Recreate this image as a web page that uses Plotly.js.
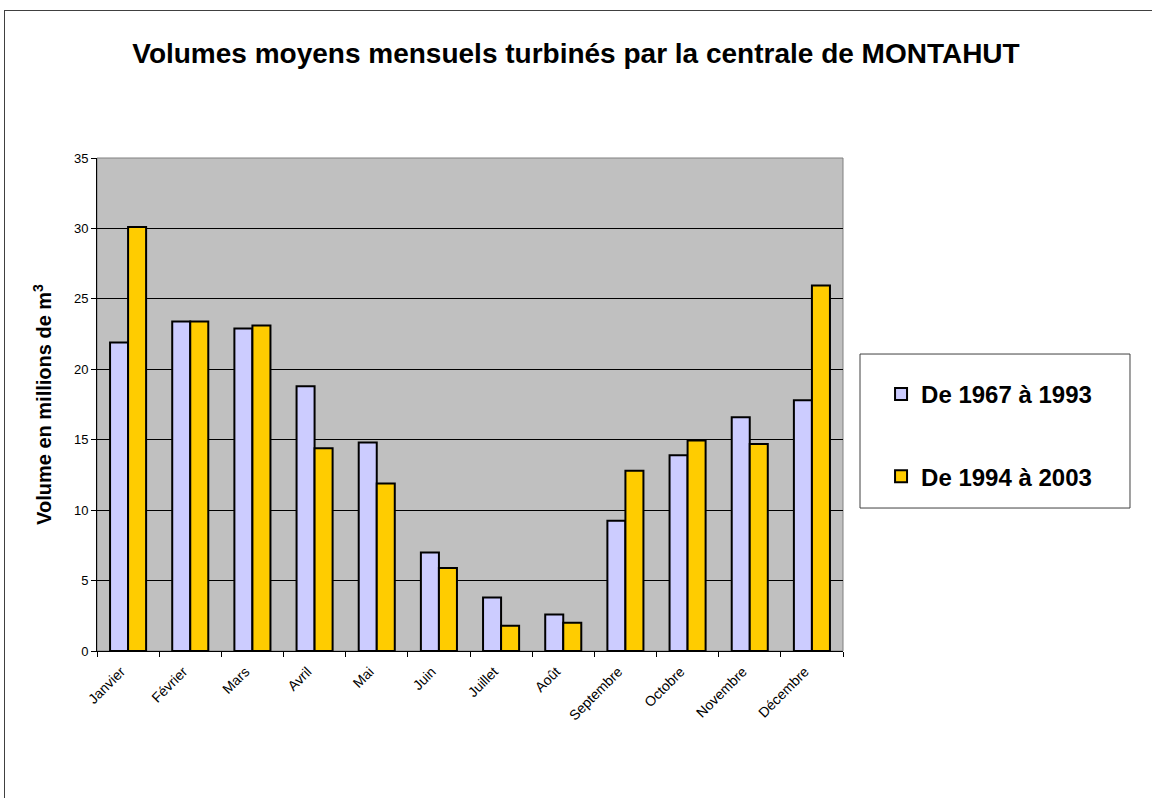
<!DOCTYPE html>
<html>
<head>
<meta charset="utf-8">
<script src="https://cdn.plot.ly/plotly-3.0.1.min.js"></script>
<style>
  html, body { margin: 0; padding: 0; background: #fff; overflow: hidden; }
  #chart { position: absolute; left: 0; top: 0; width: 1152px; height: 798px; }
  #cadre { position: absolute; left: 4px; top: 10px; width: 1200px; height: 900px;
           border: 1px solid #404040; pointer-events: none; }
</style>
</head>
<body>
<div id="chart"></div>
<div id="cadre"></div>
<script>
// Mois et volumes moyens turbinés (millions de m3)
const mois = ['Janvier', 'Février', 'Mars', 'Avril', 'Mai', 'Juin',
              'Juillet', 'Août', 'Septembre', 'Octobre', 'Novembre', 'Décembre'];
const periode1967 = [21.9, 23.4, 22.9, 18.8, 14.8, 7.0, 3.8, 2.6, 9.25, 13.9, 16.6, 17.8];
const periode1994 = [30.1, 23.4, 23.1, 14.4, 11.9, 5.9, 1.8, 2.0, 12.8, 14.95, 14.7, 25.95];
const yTicks = [0, 5, 10, 15, 20, 25, 30, 35];

const police = 'Liberation Sans, Arial, sans-serif';

const data = [
  {
    x: mois,
    y: periode1967,
    type: 'bar',
    name: 'De 1967 à 1993',
    legendgroup: 'a',
    marker: { color: '#CCCCFF', line: { color: '#000', width: 2 } }
  },
  {
    x: mois,
    y: periode1994,
    type: 'bar',
    name: 'De 1994 à 2003',
    legendgroup: 'b',
    marker: { color: '#FFCC00', line: { color: '#000', width: 2 } }
  }
];

const layout = {
  width: 1152,
  height: 798,
  margin: { l: 97, r: 309, t: 158, b: 147 },
  paper_bgcolor: 'rgba(0,0,0,0)',
  plot_bgcolor: '#C0C0C0',
  font: { family: police, color: '#000' },
  barmode: 'group',
  bargap: 0.42,
  bargroupgap: 0,
  title: {
    text: '<b>Volumes moyens mensuels turbinés par la centrale de MONTAHUT</b>',
    font: { size: 28, family: police, color: '#000' },
    x: 0.5,
    xref: 'container',
    y: 1 - 53 / 798,
    yref: 'container',
    yanchor: 'middle'
  },
  xaxis: {
    type: 'category',
    tickangle: -45,
    tickfont: { size: 14, family: police, color: '#000' },
    ticks: 'outside',
    tickson: 'boundaries',
    ticklen: 5,
    tickcolor: '#000',
    ticklabelshift: -7,
    ticklabelstandoff: 6,
    showline: true,
    linecolor: '#000',
    linewidth: 1,
    showgrid: false,
    zeroline: false
  },
  yaxis: {
    range: [0, 35],
    tickvals: yTicks,
    tickfont: { size: 13, family: police, color: '#000' },
    ticks: 'outside',
    ticklen: 5,
    tickcolor: '#000',
    showline: true,
    linecolor: '#000',
    linewidth: 1,
    showgrid: true,
    gridcolor: '#000',
    gridwidth: 1,
    zeroline: false,
    title: {
      text: '<b>Volume en millions de m<sup>3</sup></b>',
      font: { size: 20, family: police, color: '#000' },
      standoff: 16
    }
  },
  showlegend: true,
  legend: {
    x: 1.051,
    xanchor: 'left',
    y: 0.566,
    yanchor: 'top',
    traceorder: 'grouped',
    tracegroupgap: 48,
    bgcolor: 'rgba(0,0,0,0)',
    borderwidth: 0,
    font: { size: 24, family: police, color: '#000', weight: 'bold' }
  },
  shapes: [
    // cadre de la zone de tracé
    { type: 'rect', xref: 'paper', yref: 'paper', x0: 0, x1: 1, y0: 0, y1: 1,
      line: { color: '#808080', width: 1 }, layer: 'below' },
    // cadre de la légende
    { type: 'rect', xref: 'paper', yref: 'paper', x0: 1.0228, x1: 1.3847, y0: 0.290, y1: 0.6024,
      line: { color: '#404040', width: 1 }, fillcolor: '#fff', layer: 'below' }
  ]
};

Plotly.newPlot('chart', data, layout, { displayModeBar: false, staticPlot: true });
</script>
</body>
</html>
